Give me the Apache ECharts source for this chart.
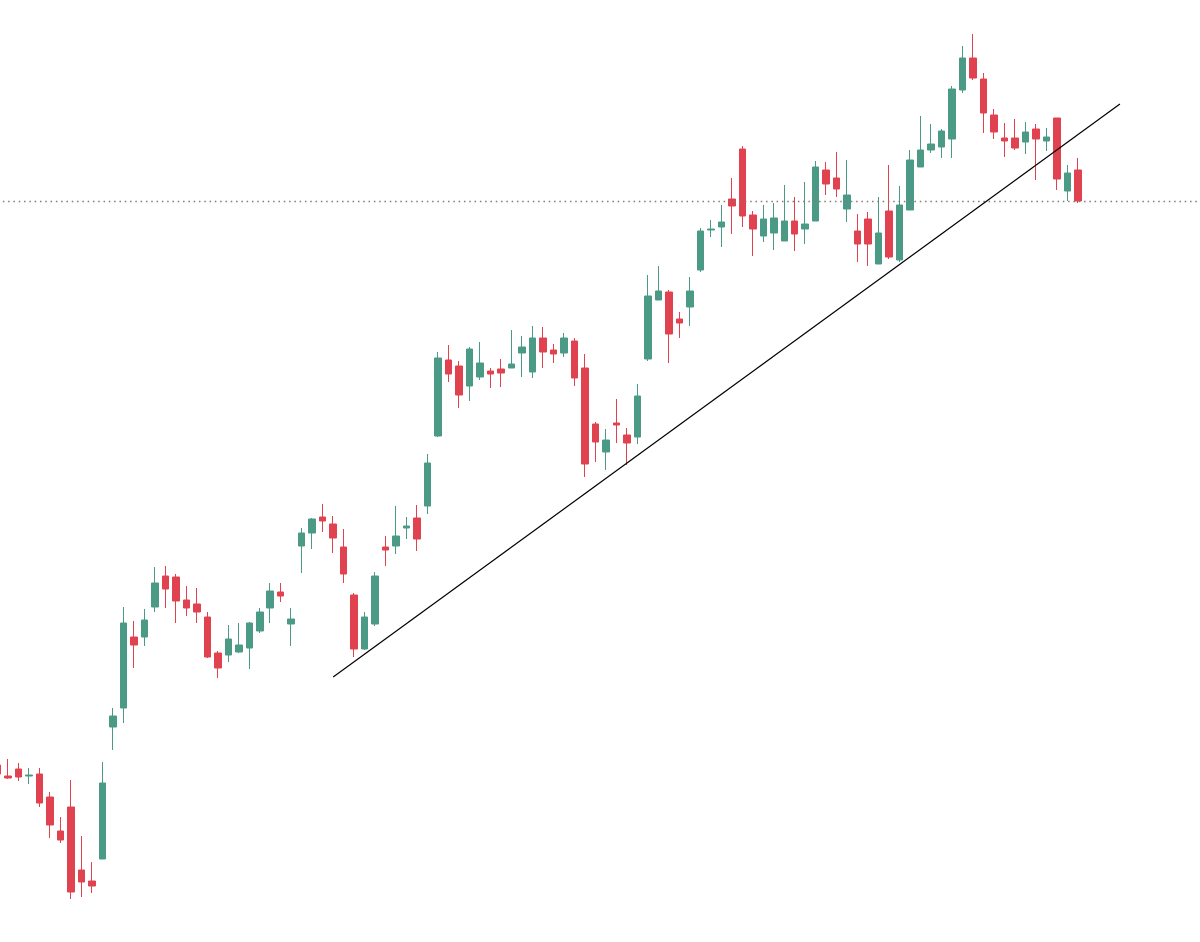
<!DOCTYPE html>
<html>
<head>
<meta charset="utf-8">
<script src="https://cdn.jsdelivr.net/npm/echarts@6/dist/echarts.min.js"></script>
<style>html,body{margin:0;padding:0;background:#fff;}#c{width:1200px;height:942px;}</style>
</head>
<body>
<div id="c"></div>
<script>
// Candle values (arbitrary price units)
const opens  = [177,166,173,166,168,145,111,135,72,61,83,215,234,305,305,335,366,365,342,338,325,289,287,290,294,311,334,350,318,396,409,425,418,395,347,293,318,395,396,414,424,436,506,582,576,556,565,571,573,574,589,570,604,592,589,601,574,518,490,519,507,505,583,642,650,623,635,672,712,715,743,793,727,706,709,701,721,713,721,772,764,733,711,723,678,731,682,732,775,792,795,803,852,884,863,827,804,804,800,813,801,824,751,772];
const closes = [168,164,165,167,139,117,102,50,60,56,159,226,319,297,322,359,353,341,334,330,285,274,303,297,319,330,351,346,323,409,423,421,404,368,293,325,366,392,406,416,403,479,584,568,547,593,579,568,569,578,595,604,590,588,604,564,478,500,502,517,499,546,646,651,608,619,651,711,713,720,736,726,713,723,724,721,708,718,775,758,753,747,698,698,709,685,737,782,792,798,811,853,884,864,829,810,801,794,810,803,805,763,769,741];
const lows   = [164,163,161,158,135,104,99,43,45,49,83,192,219,274,296,330,334,319,326,319,284,264,280,289,273,309,319,340,296,369,393,410,389,359,285,292,316,376,388,403,391,428,505,560,534,541,562,554,555,574,565,564,574,579,585,556,465,480,472,499,477,498,581,642,579,604,616,670,705,695,708,715,686,700,692,701,691,698,721,747,745,720,680,676,678,683,680,732,775,789,784,784,849,862,809,803,785,792,788,762,791,752,741,739];
const highs  = [182,183,179,174,174,150,125,162,106,80,180,234,335,321,333,375,376,368,356,354,330,291,317,319,320,334,359,359,334,414,424,438,426,413,349,330,370,406,436,425,437,488,590,597,581,595,600,574,583,612,606,616,615,598,609,604,588,520,513,543,514,558,667,676,652,630,665,714,722,737,764,796,731,737,739,757,745,760,781,780,790,782,728,730,745,777,756,792,826,818,813,856,896,908,869,833,819,823,820,818,814,824,777,784];
// Trendline anchor points (category index, value)
const trendIdx = [32, 107];
const trendVal = [265, 838];
// Last price level (dotted line)
const lastPrice = 741;
const totalSlots = 116;

const categories = [];
for (let i = 0; i < totalSlots; i++) categories.push(String(i));
const candleData = opens.map((o, i) => [o, closes[i], lows[i], highs[i]]);
const trendData = categories.map(() => '-');
trendIdx.forEach((ix, k) => { trendData[ix] = trendVal[k]; });

const UP = '#4a9a85', DOWN = '#e0434f';
const slot = 10.49;
const chart = echarts.init(document.getElementById('c'));
chart.setOption({
  animation: false,
  backgroundColor: '#ffffff',
  grid: { left: -2.5 - slot / 2, top: 0, width: slot * totalSlots, height: 942, outerBoundsMode: 'none', containLabel: false },
  xAxis: { type: 'category', data: categories, show: false, boundaryGap: true },
  yAxis: { type: 'value', min: 0, max: 942, show: false },
  series: [
    {
      type: 'candlestick',
      data: candleData,
      barWidth: 7,
      itemStyle: { color: UP, color0: DOWN, borderColor: UP, borderColor0: DOWN, borderWidth: 1 },
      markLine: {
        silent: true,
        symbol: ['none', 'none'],
        label: { show: false },
        lineStyle: { color: '#857779', width: 1.4, type: [1.5, 3.8] },
        data: [{ yAxis: lastPrice }]
      }
    },
    {
      type: 'line',
      data: trendData,
      connectNulls: true,
      symbol: 'none',
      lineStyle: { color: '#000000', width: 1.2 },
      z: 5
    }
  ]
});
</script>
</body>
</html>
